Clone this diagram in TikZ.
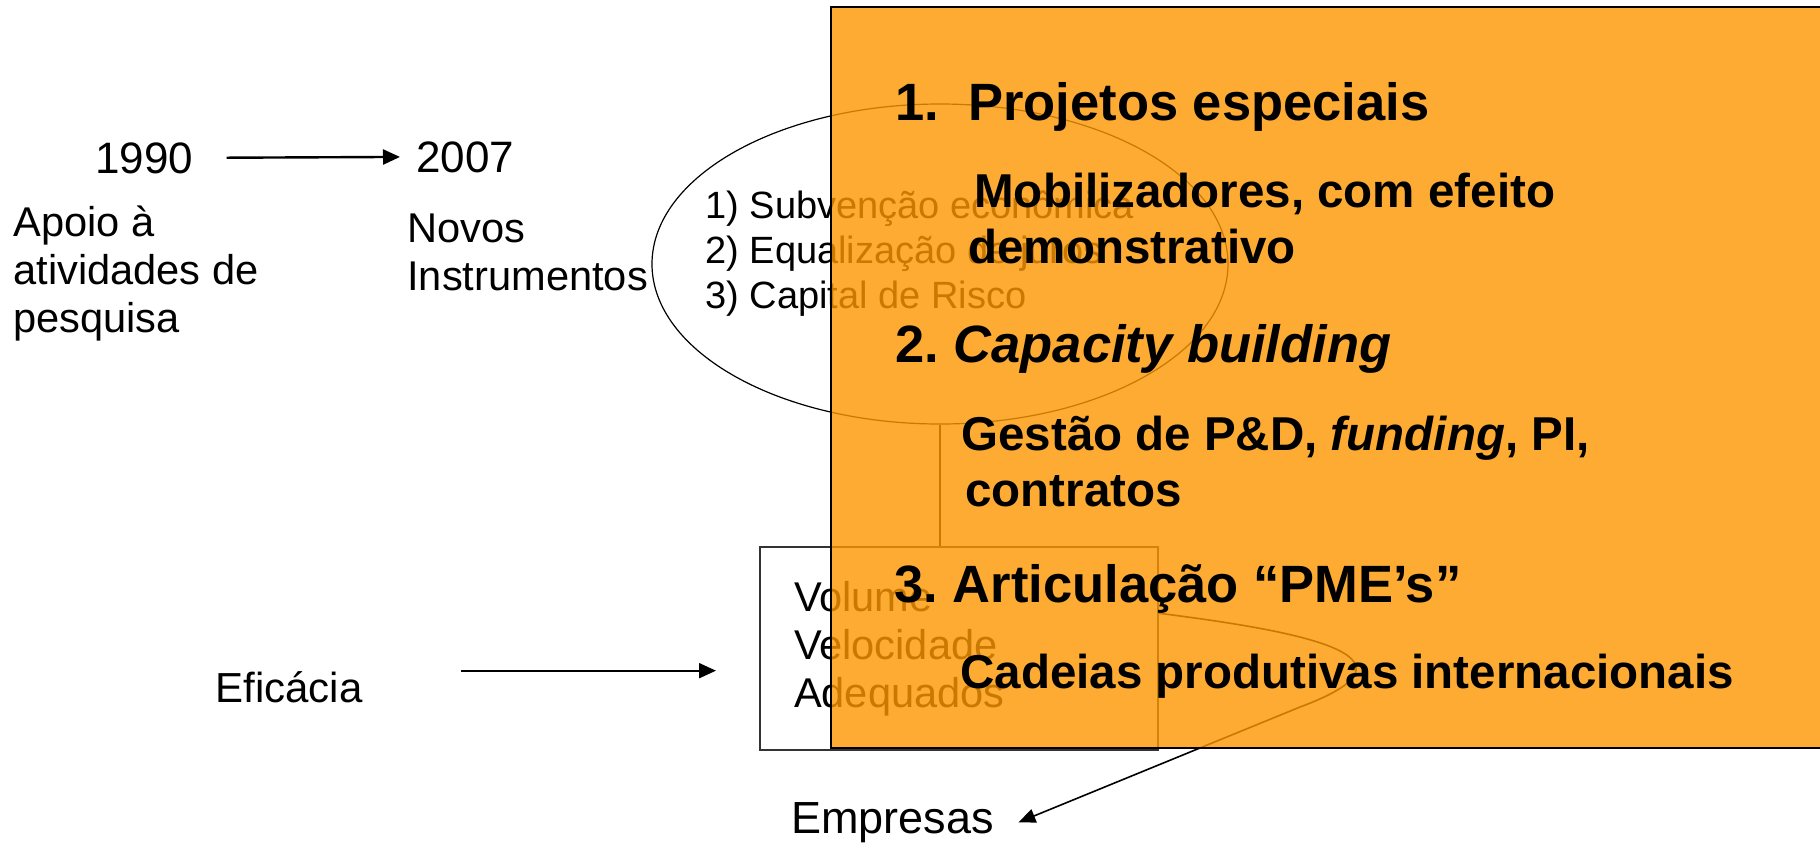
\documentclass[tikz,border=0pt]{standalone}
\usepackage{fontspec}
\setmainfont{Liberation Sans}
\frenchspacing
\usetikzlibrary{arrows.meta,shapes.geometric}
\definecolor{slideorange}{RGB}{252,150,0}
\tikzset{
  txt/.style={anchor=base west,inner sep=0pt,align=left,font=\fontsize{20.8}{24}\selectfont},
  yeartxt/.style={txt,font=\fontsize{22}{26}\selectfont},
  listtxt/.style={txt,font=\fontsize{19}{22.5}\selectfont},
  headtxt/.style={txt,font=\bfseries\fontsize{26.25}{30}\selectfont},
  subtxt/.style={txt,font=\bfseries\fontsize{23.75}{28}\selectfont},
  arr/.style={-{Triangle[length=8.5pt,width=7.5pt]},line width=1pt},
}
\begin{document}
\begin{tikzpicture}[x=0.5pt,y=-0.5pt]
\useasboundingbox (0,0) rectangle (1820,842);
% timeline (multi-line texts sit on their last baseline)
\node[yeartxt] (y1990) at (95,173) {1990};
\node[yeartxt] (y2007) at (416,172) {2007};
\draw[arr,line width=1.2pt,shorten <=16.5pt,shorten >=8pt] (y1990.east) -- (y2007.west);
\node[txt] (apoio) at (13,332) {Apoio à\\atividades de\\pesquisa};
\node[txt] (novos) at (407,290) {Novos\\Instrumentos};
% instruments
\node[draw,ellipse,minimum width=288pt,minimum height=160pt,inner sep=0pt,line width=0.6pt] (instr) at (940,264) {};
\node[listtxt] (itens) at (705,308) {1) Subvenção econômica\\2) Equalização de juros\\3) Capital de Risco};
\node[txt,anchor=center,draw=black!80,line width=1pt,text width=165pt,inner xsep=17pt,minimum height=101.5pt] (vol) at (959,648.5) {Volume\\Velocidade\\Adequados};
\draw[line width=0.6pt] (instr.south) -- (instr.south |- vol.north);
\node[txt,font=\fontsize{21}{24}\selectfont] (efic) at (215,702) {Eficácia};
\draw[arr,shorten <=49pt,shorten >=21.5pt] (efic.north east) -- (efic.north east -| vol.west);
\node[txt,font=\fontsize{22.5}{26}\selectfont] (emp) at (791,833) {Empresas};
\draw[line width=0.8pt,-{Triangle[length=8.5pt,width=7pt]},shorten >=13pt]
  (vol.10) .. controls (1290,630) and (1440,655) .. (1300,707) -- ([yshift=-5pt]emp.east);
% orange panel
\fill[slideorange,fill opacity=0.8] (831,7) rectangle (1830,748);
\draw[line width=1pt] (1830,7) -- (831,7) -- (831,748) -- (1830,748);
\node[headtxt] (proj) at (895,120) {1.\ \ Projetos especiais};
\node[subtxt] (mobil) at (968,263) {\hspace*{3pt}Mobilizadores, com efeito\\demonstrativo};
\node[headtxt] (capac) at (895,362) {2. \textit{Capacity building}};
\node[subtxt] (gestao) at (961,506) {Gestão de P\&D, \textit{funding}, PI,\\\hspace*{2pt}contratos};
\node[headtxt] (artic) at (894,602) {3. Articulação “PME’s”};
\node[subtxt] (cadeias) at (960,688) {Cadeias produtivas internacionais};
\end{tikzpicture}
\end{document}
